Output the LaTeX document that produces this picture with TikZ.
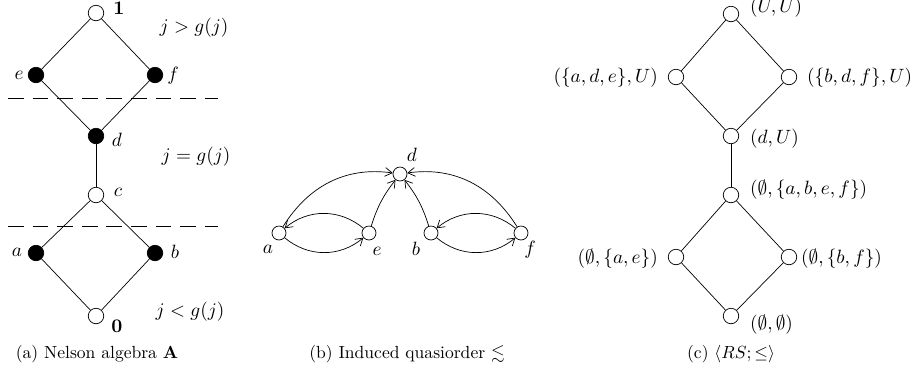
\documentclass[tikz,border=0pt]{standalone}
\usepackage{amssymb}
\usetikzlibrary{arrows.meta}
\begin{document}
\begin{tikzpicture}[x=0.02cm,y=-0.02cm,font=\fontsize{11}{13}\selectfont,
  vide/.style={circle,draw,fill=white,inner sep=0pt,minimum size=0.31cm},
  plein/.style={circle,draw,fill=black,inner sep=0pt,minimum size=0.31cm},
  petit/.style={circle,draw,fill=white,inner sep=0pt,minimum size=0.28cm},
  fleche/.style={-{Straight Barb[length=4pt,width=5pt]}},
  coupe/.style={dashed,dash pattern=on 9pt off 5pt},
  legende/.style={font=\normalsize}]

\useasboundingbox (0,0) rectangle (914,380);

% Algebre de Nelson
\node[vide] (un) at (96,13) {};
\node[plein] (e) at (36,75) {};
\node[plein] (f) at (155,75) {};
\node[plein] (d) at (96,136) {};
\node[vide] (c) at (96,195) {};
\node[plein] (a) at (36,253) {};
\node[plein] (b) at (155,253) {};
\node[vide] (zero) at (96,316) {};

\draw (zero) -- (a) -- (c) -- (b) -- (zero);
\draw (c) -- (d);
\draw (d) -- (e) -- (un) -- (f) -- (d);

\draw[coupe] (8,98) -- (218,98);
\draw[coupe] (8,226) -- (218,226);

\node (lun) at (119,8) {$\mathbf{1}$};
\node (le) at (19,75) {$e$};
\node (lf) at (173,76) {$f$};
\node (ld) at (117,140) {$d$};
\node (lc) at (118,192) {$c$};
\node (la) at (17,252) {$a$};
\node (lb) at (175,252) {$b$};
\node (lzero) at (117,326) {$\mathbf{0}$};

\node (sup) at (194,28) {$j>g(j)$};
\node (egal) at (196,157) {$j=g(j)$};
\node (inf) at (190,312) {$j<g(j)$};

\node[legende] (capa) at (97,354) {(a)\ Nelson algebra $\mathbf{A}$};

% Quasi-ordre induit
\node[petit] (qd) at (400,174) {};
\node[petit] (qa) at (279,233) {};
\node[petit] (qe) at (369,233) {};
\node[petit] (qb) at (431,233) {};
\node[petit] (qf) at (521,233) {};

\draw[fleche] (qa) to[out=58,in=172] (qd);
\draw[fleche] (qe) to[bend left=10] (qd);
\draw[fleche] (qb) to[bend right=10] (qd);
\draw[fleche] (qf) to[out=122,in=8] (qd);
\draw[fleche] (qe) to[bend right=40] (qa);
\draw[fleche] (qa) to[bend right=40] (qe);
\draw[fleche] (qf) to[bend right=40] (qb);
\draw[fleche] (qb) to[bend right=40] (qf);

\node (lqd) at (412,155) {$d$};
\node (lqa) at (268,249) {$a$};
\node (lqe) at (377,251) {$e$};
\node (lqb) at (416,249) {$b$};
\node (lqf) at (530,250) {$f$};

\node[legende] (capb) at (407,354) {(b)\ Induced quasiorder $\lesssim$};

% Ensembles approximatifs
\node[vide] (uu) at (731,14) {};
\node[vide] (ade) at (676,77) {};
\node[vide] (bdf) at (789,77) {};
\node[vide] (du) at (731,136) {};
\node[vide] (abef) at (731,195) {};
\node[vide] (ae) at (676,257) {};
\node[vide] (bf) at (789,257) {};
\node[vide] (vv) at (731,316) {};

\draw (vv) -- (ae) -- (abef) -- (bf) -- (vv);
\draw (abef) -- (du);
\draw (du) -- (ade) -- (uu) -- (bdf) -- (du);

\node[anchor=west] (luu) at (744,8) {$(U,U)$};
\node[anchor=east] (lade) at (664,78) {$(\{a,d,e\},U)$};
\node[anchor=west] (lbdf) at (801,78) {$(\{b,d,f\},U)$};
\node[anchor=west] (ldu) at (744,139) {$(d,U)$};
\node[anchor=west] (labef) at (744,190) {$(\emptyset,\{a,b,e,f\})$};
\node[anchor=east] (lae) at (664,259) {$(\emptyset,\{a,e\})$};
\node[anchor=west] (lbf) at (795,259) {$(\emptyset,\{b,f\})$};
\node[anchor=west] (lvv) at (744,325) {$(\emptyset,\emptyset)$};

\node[legende] (capc) at (731,354) {(c)\ $\langle RS;\leq\rangle$};

\end{tikzpicture}
\end{document}
